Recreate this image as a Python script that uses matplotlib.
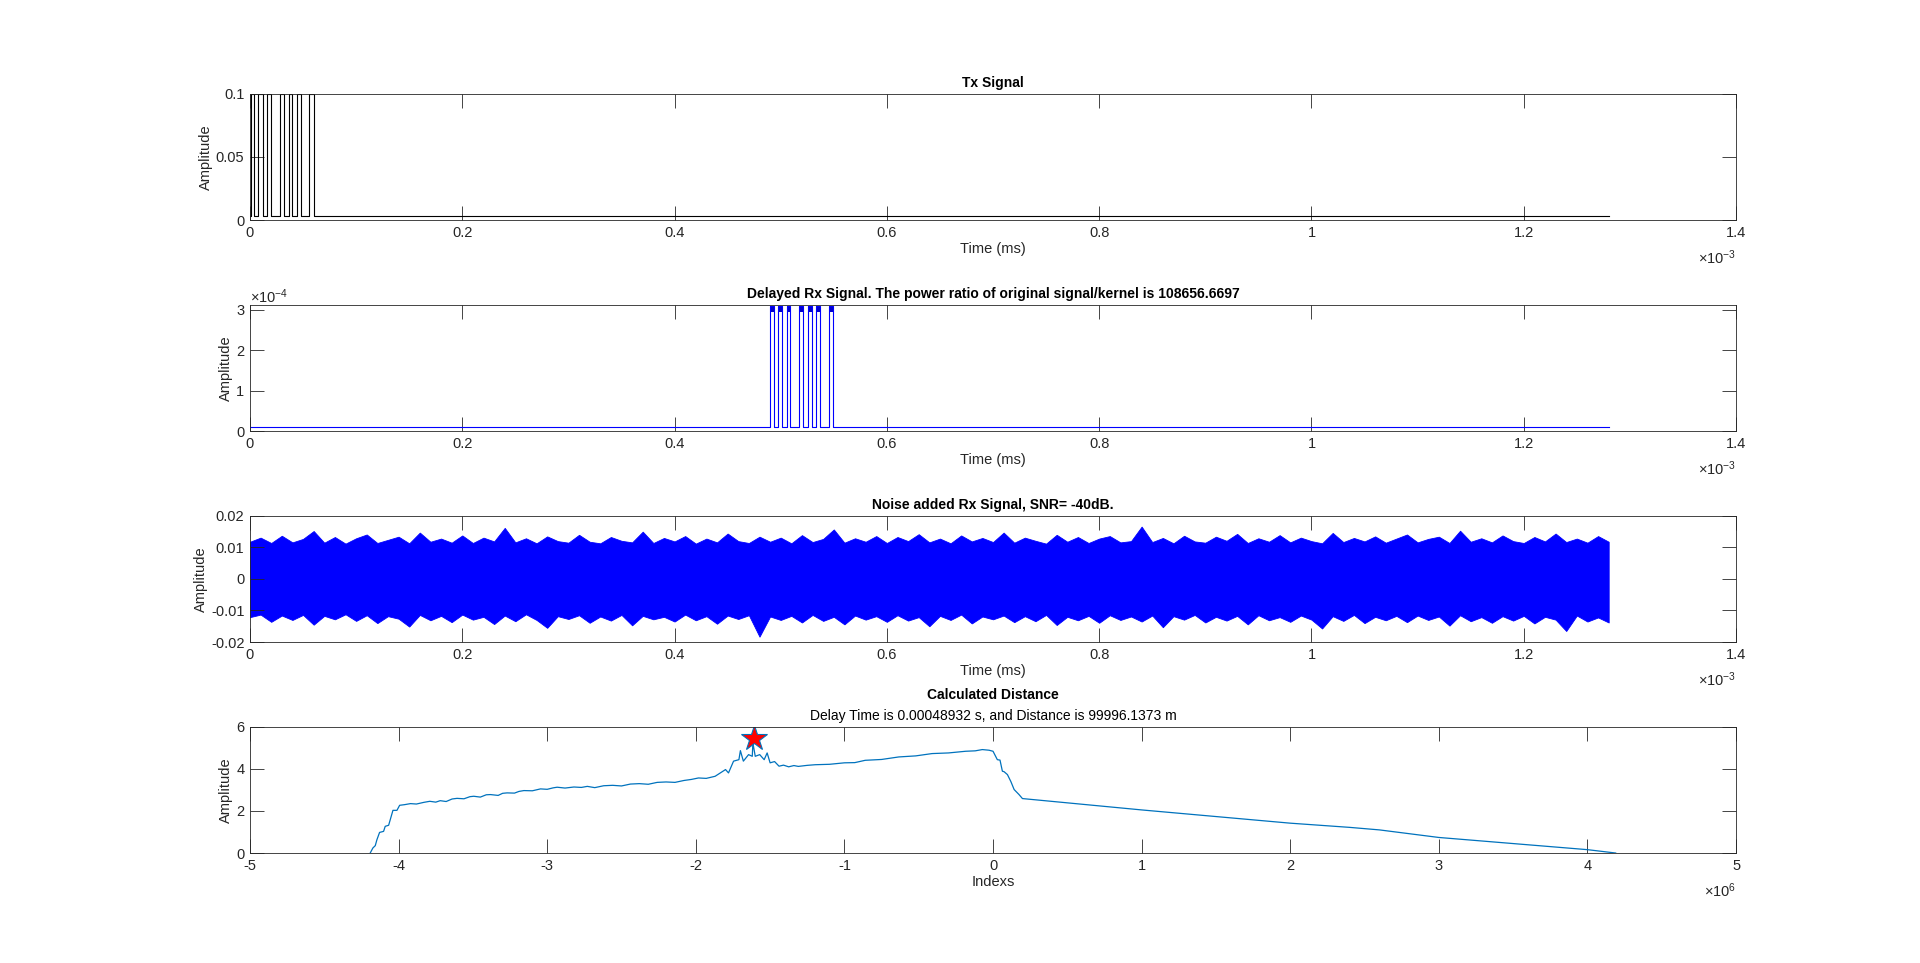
import numpy as np
import matplotlib.pyplot as plt

plt.rcParams['font.family'] = ['Liberation Sans', 'DejaVu Sans']
plt.rcParams['mathtext.fontset'] = 'custom'
plt.rcParams['mathtext.rm'] = 'Liberation Sans'
plt.rcParams['font.size'] = 10.5

# ---- values ----
# Tx code: rise/fall times in microseconds (alternating)
tx_edges_us = [1.0, 4.0, 7.8, 12.0, 16.3, 19.5, 28.3, 32.0, 36.5, 39.9, 44.0, 48.0, 55.9, 60.3]
tx_high = 0.1
tx_low = 0.0034
signal_end_us = 1280.0

delay_us = 489.32
rx_high = 3.1e-4
rx_cap = 2.95e-4
rx_low = 0.1e-4

# noise envelope (units of 1e-4)
noise_upper = [118, 131, 114, 137, 116, 127, 152, 115, 133, 112,
               129, 141, 114, 124, 134, 113, 147, 118, 128, 115,
               138, 114, 131, 119, 162, 116, 129, 113, 135, 120,
               115, 140, 118, 113, 133, 121, 116, 150, 114, 130,
               119, 136, 112, 128, 116, 144, 120, 114, 134, 118,
               131, 113, 139, 117, 127, 157, 115, 129, 118, 136,
               114, 133, 120, 142, 116, 128, 113, 138, 119, 130,
               117, 147, 115, 131, 121, 112, 140, 118, 133, 114,
               128, 136, 116, 120, 166, 117, 130, 113, 137, 119,
               115, 134, 121, 143, 114, 129, 118, 139, 116, 131,
               120, 113, 146, 117, 130, 119, 135, 115, 128, 141,
               116, 127, 134, 114, 153, 118, 129, 116, 138, 120,
               114, 133, 119, 144, 117, 128, 115, 136, 118]
noise_lower = [121, 113, 136, 116, 130, 114, 145, 117, 128, 112,
               133, 115, 140, 118, 126, 151, 114, 131, 117, 137,
               113, 129, 120, 143, 116, 134, 112, 130, 155, 118,
               127, 115, 139, 119, 132, 114, 147, 117, 128, 120,
               135, 113, 131, 118, 142, 116, 127, 115, 183, 119,
               130, 117, 138, 114, 133, 120, 144, 116, 129, 118,
               136, 115, 132, 121, 150, 117, 130, 113, 141, 119,
               128, 116, 137, 118, 134, 114, 146, 120, 131, 117,
               139, 115, 130, 119, 135, 116, 153, 118, 129, 114,
               138, 120, 132, 117, 144, 115, 131, 121, 136, 116,
               129, 157, 118, 133, 114, 140, 120, 131, 117, 137,
               116, 130, 119, 148, 115, 134, 121, 139, 118, 132,
               117, 141, 120, 129, 165, 116, 135, 122, 138]

# correlation, x in units of 1e6
corr_x = [-4.191, -4.173, -4.157, -4.146, -4.128, -4.101, -4.090, -4.067, -4.038, -4.011,
          -3.993, -3.96, -3.92, -3.88, -3.83, -3.79, -3.75, -3.72, -3.68, -3.64,
          -3.607, -3.56, -3.52, -3.494, -3.45, -3.41, -3.382, -3.33, -3.30, -3.27,
          -3.22, -3.19, -3.157, -3.10, -3.045, -3.0, -2.96, -2.933, -2.88, -2.82,
          -2.77, -2.73, -2.68, -2.62, -2.56, -2.50, -2.44, -2.38, -2.32, -2.26,
          -2.20, -2.14, -2.08, -2.03, -1.982, -1.93, -1.87, -1.80, -1.78, -1.746,
          -1.71, -1.70, -1.68, -1.645, -1.62, -1.616, -1.60, -1.57, -1.54, -1.52,
          -1.50, -1.47, -1.44, -1.41, -1.375, -1.34, -1.31, -1.25, -1.196, -1.10,
          -1.0, -0.93, -0.86, -0.75, -0.634, -0.52, -0.41, -0.30, -0.184, -0.12,
          -0.072, -0.027, 0.0, 0.029, 0.047, 0.063, 0.074, 0.097, 0.12, 0.142,
          0.175, 0.198, 1.0, 2.0, 2.4, 2.6, 3.0, 4.0, 4.19]
corr_y = [0.0, 0.24, 0.35, 0.63, 0.98, 1.03, 1.27, 1.32, 2.03, 2.03,
          2.27, 2.30, 2.35, 2.33, 2.41, 2.46, 2.42, 2.49, 2.45, 2.57,
          2.60, 2.58, 2.68, 2.70, 2.66, 2.77, 2.78, 2.74, 2.84, 2.86,
          2.85, 2.93, 2.97, 2.96, 3.05, 3.03, 3.10, 3.13, 3.09, 3.14,
          3.12, 3.17, 3.11, 3.20, 3.22, 3.19, 3.28, 3.30, 3.27, 3.36,
          3.38, 3.36, 3.45, 3.50, 3.57, 3.55, 3.65, 3.97, 3.81, 4.37,
          4.44, 4.87, 4.37, 4.68, 4.60, 5.24, 4.60, 4.68, 4.44, 4.76,
          4.29, 4.35, 4.13, 4.18, 4.10, 4.16, 4.12, 4.17, 4.20, 4.22,
          4.29, 4.30, 4.41, 4.45, 4.57, 4.62, 4.73, 4.76, 4.84, 4.86,
          4.92, 4.89, 4.84, 4.44, 4.42, 3.89, 3.87, 3.73, 3.40, 3.02,
          2.78, 2.59, 2.05, 1.42, 1.22, 1.10, 0.74, 0.16, 0.0]
peak_x = -1.61
peak_y = 5.45

time_ticks = [0, 0.2, 0.4, 0.6, 0.8, 1.0, 1.2, 1.4]
time_labels = ['0', '0.2', '0.4', '0.6', '0.8', '1', '1.2', '1.4']
tx_yticks = [0, 0.05, 0.1]
tx_ylabels = ['0', '0.05', '0.1']
rx_yticks = [0, 1, 2, 3]
rx_ylabels = ['0', '1', '2', '3']
noise_yticks = [-0.02, -0.01, 0, 0.01, 0.02]
noise_ylabels = ['-0.02', '-0.01', '0', '0.01', '0.02']
idx_ticks = [-5, -4, -3, -2, -1, 0, 1, 2, 3, 4, 5]
idx_labels = ['-5', '-4', '-3', '-2', '-1', '0', '1', '2', '3', '4', '5']
corr_yticks = [0, 2, 4, 6]
corr_ylabels = ['0', '2', '4', '6']

dark = '#262626'
mblue = '#0072BD'


def square_wave(edges, end, high, low):
    t, y = [0.0], [low]
    level = low
    for e in edges:
        nxt = high if level == low else low
        t += [e, e]
        y += [level, nxt]
        level = nxt
    t.append(end)
    y.append(level)
    return np.array(t), np.array(y)


def style(ax):
    for sp in ax.spines.values():
        sp.set_color(dark)
        sp.set_linewidth(0.6)
    ax.tick_params(direction='in', length=10, width=0.6, colors=dark,
                   top=True, right=True, labelsize=10.5, pad=4)
    ax.set_ylabel('Amplitude', color=dark, labelpad=2)


def exp_label(ax, txt):
    ax.annotate(r'$\mathregular{\times10^{%s}}$' % txt, xy=(1, 0), xycoords='axes fraction',
                xytext=(0, -27), textcoords='offset points', ha='right', va='center',
                color=dark, fontsize=10.5)


fig = plt.figure(figsize=(19.2, 9.63), dpi=100)
left, width, h = 0.1302, 0.7740, 0.131
ax1 = fig.add_axes([left, 0.7715, width, h])
ax2 = fig.add_axes([left, 0.5524, width, h])
ax3 = fig.add_axes([left, 0.3333, width, h])
ax4 = fig.add_axes([left, 0.1142, width, h])

# Tx
t, y = square_wave(tx_edges_us, signal_end_us, tx_high, tx_low)
ax1.plot(t * 1e-6, y, color='k', lw=0.8)
ax1.set_xlim(0, 1.4e-3)
ax1.set_ylim(0, 0.1)
ax1.set_yticks(tx_yticks, tx_ylabels)
ax1.set_title('Tx Signal', fontweight='bold', fontsize=10, pad=5)

# delayed Rx
rx_edges = [e + delay_us for e in tx_edges_us]
t, y = square_wave(rx_edges, signal_end_us, rx_high, rx_low)
ax2.plot(t * 1e-6, y, color='b', lw=0.8)
for a, b in zip(rx_edges[0::2], rx_edges[1::2]):
    ax2.fill_between([a * 1e-6, b * 1e-6], rx_cap, rx_high, color='#0000CC', lw=0)
ax2.set_xlim(0, 1.4e-3)
ax2.set_ylim(0, 3.12e-4)
ax2.set_yticks([v * 1e-4 for v in rx_yticks], rx_ylabels)
ax2.set_title('Delayed Rx Signal. The power ratio of original signal/kernel is 108656.6697',
              fontweight='bold', fontsize=10, pad=5)
ax2.annotate(r'$\mathregular{\times10^{-4}}$', xy=(0, 1), xycoords='axes fraction',
             xytext=(0, 6), textcoords='offset points', ha='left', va='center',
             color=dark, fontsize=10.5)

# noisy Rx
tn = np.linspace(0, signal_end_us * 1e-6, len(noise_upper))
up = np.array(noise_upper) * 1e-4
lo = -np.array(noise_lower) * 1e-4
ax3.fill_between(tn, lo, up, color='b', lw=0.6, edgecolor='b')
ax3.set_xlim(0, 1.4e-3)
ax3.set_ylim(-0.02, 0.02)
ax3.set_yticks(noise_yticks, noise_ylabels)
ax3.set_title('Noise added Rx Signal, SNR= -40dB.', fontweight='bold', fontsize=10, pad=5)

for ax in (ax1, ax2, ax3):
    ax.set_xticks([v * 1e-3 for v in time_ticks], time_labels)
    style(ax)
    ax.set_xlabel('Time (ms)', color=dark, labelpad=2)
    exp_label(ax, '-3')

# correlation
ax4.plot(np.array(corr_x) * 1e6, corr_y, color=mblue, lw=0.9)
ax4.plot(peak_x * 1e6, peak_y, marker='*', ms=19, mfc='red', mec=mblue, mew=0.8, ls='none')
ax4.set_xlim(-5e6, 5e6)
ax4.set_ylim(0, 6)
ax4.set_xticks([v * 1e6 for v in idx_ticks], idx_labels)
ax4.set_yticks(corr_yticks, corr_ylabels)
style(ax4)
ax4.set_xlabel('Indexs', color=dark, labelpad=2)
exp_label(ax4, '6')
ax4.set_title('Delay Time is 0.00048932 s, and Distance is 99996.1373 m', fontsize=10, pad=5)
ax4.annotate('Calculated Distance', xy=(0.5, 1), xycoords='axes fraction',
             xytext=(0, 23), textcoords='offset points', ha='center', va='center',
             fontweight='bold', fontsize=10)

fig.savefig('out.png', dpi=100, facecolor='white')
